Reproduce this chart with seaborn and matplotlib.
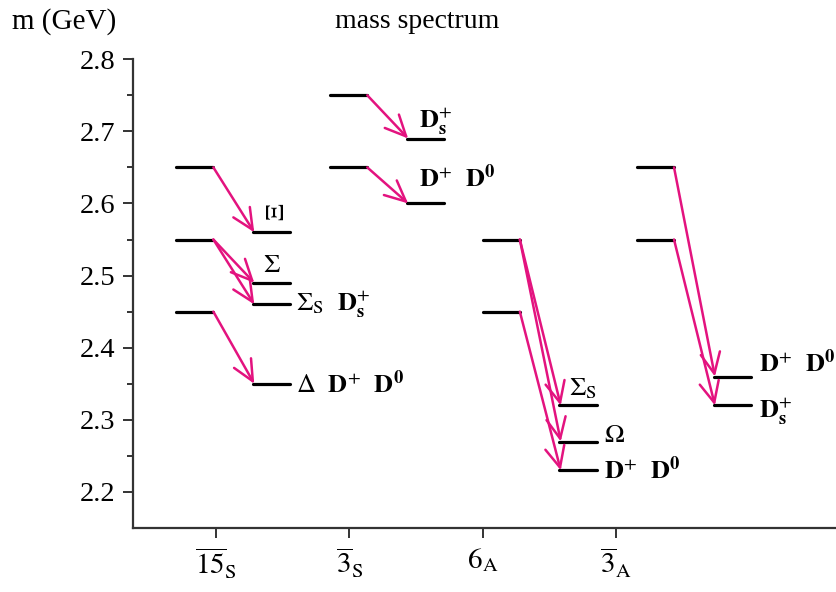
import matplotlib
matplotlib.use("Agg")
import matplotlib.pyplot as plt
import seaborn as sns
import pandas as pd

# representations (x ticks) and mass levels in GeV
groups = [r'$\overline{15}_\mathrm{S}$', r'$\overline{3}_\mathrm{S}$',
          r'$6_\mathrm{A}$', r'$\overline{3}_\mathrm{A}$']
initial_masses = [[2.65, 2.55, 2.45], [2.75, 2.65], [2.55, 2.45], [2.65, 2.55]]
final_masses = [[2.56, 2.49, 2.46, 2.35], [2.69, 2.60], [2.32, 2.27, 2.23], [2.36, 2.32]]
final_labels = [
    [r'$\Xi$', r'$\Sigma$', r'$\Sigma_\mathrm{S}\ \ \mathbf{D}_\mathbf{s}^{+}$',
     r'$\Delta\ \ \mathbf{D}^{+}\ \ \mathbf{D}^{\mathbf{0}}$'],
    [r'$\mathbf{D}_\mathbf{s}^{+}$', r'$\mathbf{D}^{+}\ \ \mathbf{D}^{\mathbf{0}}$'],
    [r'$\Sigma_\mathrm{S}$', r'$\Omega$', r'$\mathbf{D}^{+}\ \ \mathbf{D}^{\mathbf{0}}$'],
    [r'$\mathbf{D}^{+}\ \ \mathbf{D}^{\mathbf{0}}$', r'$\mathbf{D}_\mathbf{s}^{+}$'],
]
transitions = [
    [(2.65, 2.56), (2.55, 2.49), (2.55, 2.46), (2.45, 2.35)],
    [(2.75, 2.69), (2.65, 2.60)],
    [(2.55, 2.32), (2.55, 2.27), (2.45, 2.23)],
    [(2.65, 2.36), (2.55, 2.32)],
]

# layout: where the level bars sit relative to the ticks
left_start = [0.70, 1.855, 3.0, 4.157]
bar_w = 0.28
gap = 0.577
# label placement: (dx, dy) in points from right end of final bar, ha, va, rotation
label_pos = [
    [(-9, 8, 'center', 'bottom', 90), (-13, 4, 'center', 'bottom', 0),
     (4, 0, 'left', 'center', 0), (4, 0, 'left', 'center', 0)],
    [(-18, 1, 'left', 'bottom', 0), (-18, 8, 'left', 'bottom', 0)],
    [(-10, 3, 'center', 'bottom', 0), (5, 4, 'left', 'center', 0), (5, 0, 'left', 'center', 0)],
    [(6, 10, 'left', 'center', 0), (6, -4, 'left', 'center', 0)],
]

sns.set_theme(style='ticks')
plt.rcParams['font.family'] = ['Liberation Serif', 'DejaVu Serif']
plt.rcParams['mathtext.fontset'] = 'stix'
plt.rcParams['text.color'] = 'black'
plt.rcParams['xtick.color'] = 'black'
plt.rcParams['ytick.color'] = 'black'

rows = []
seg = 0
for i in range(len(groups)):
    for m in initial_masses[i]:
        rows += [dict(seg=seg, x=left_start[i], m=m), dict(seg=seg, x=left_start[i] + bar_w, m=m)]
        seg += 1
    for m in final_masses[i]:
        x0 = left_start[i] + gap
        rows += [dict(seg=seg, x=x0, m=m), dict(seg=seg, x=x0 + bar_w, m=m)]
        seg += 1
levels = pd.DataFrame(rows)

fig = plt.figure(figsize=(8.37, 5.92), dpi=100)
ax = fig.add_axes([0.159, 0.108, 0.841, 0.792])

sns.lineplot(data=levels, x='x', y='m', units='seg', estimator=None,
             color='black', lw=2.3, ax=ax, legend=False)

arrow_color = '#e3137f'
for i in range(len(groups)):
    for (m0, m1) in transitions[i]:
        ax.annotate('', xy=(left_start[i] + gap + 0.01, m1),
                    xytext=(left_start[i] + bar_w, m0),
                    arrowprops=dict(arrowstyle='->, head_length=0.75, head_width=0.35',
                                    color=arrow_color, lw=1.8, shrinkA=0, shrinkB=0,
                                    mutation_scale=20))
    for m, lab, (dx, dy, ha, va, rot) in zip(final_masses[i], final_labels[i], label_pos[i]):
        x_end = left_start[i] + gap + bar_w
        ax.annotate(lab, xy=(x_end, m), xytext=(dx, dy), textcoords='offset points',
                    ha=ha, va=va, rotation=rot, fontsize=19)

ax.set_xlim(0.3775, 5.66)
ax.set_ylim(2.15, 2.8)
ax.set_xticks(range(1, len(groups) + 1))
ax.set_xticklabels(groups, fontsize=21)
ax.set_yticks([2.2, 2.3, 2.4, 2.5, 2.6, 2.7, 2.8])
ax.set_yticklabels(['2.2', '2.3', '2.4', '2.5', '2.6', '2.7', '2.8'], fontsize=20.5)
ax.set_yticks([2.25, 2.35, 2.45, 2.55, 2.65, 2.75], minor=True)
ax.tick_params(axis='both', which='major', length=7, width=1.4, direction='out', color='#333333', pad=6)
ax.tick_params(axis='y', which='minor', length=4, width=1.4, direction='out', color='#333333')
ax.set_xlabel('')
ax.set_ylabel('')
for s in ['top', 'right']:
    ax.spines[s].set_visible(False)
for s in ['left', 'bottom']:
    ax.spines[s].set_linewidth(1.6)
    ax.spines[s].set_color('#333333')

fig.text(0.498, 0.963, 'mass spectrum', ha='center', va='center', fontsize=20)
fig.text(0.014, 0.963, 'm (GeV)', ha='left', va='center', fontsize=21)

fig.savefig('out.png', dpi=100)
